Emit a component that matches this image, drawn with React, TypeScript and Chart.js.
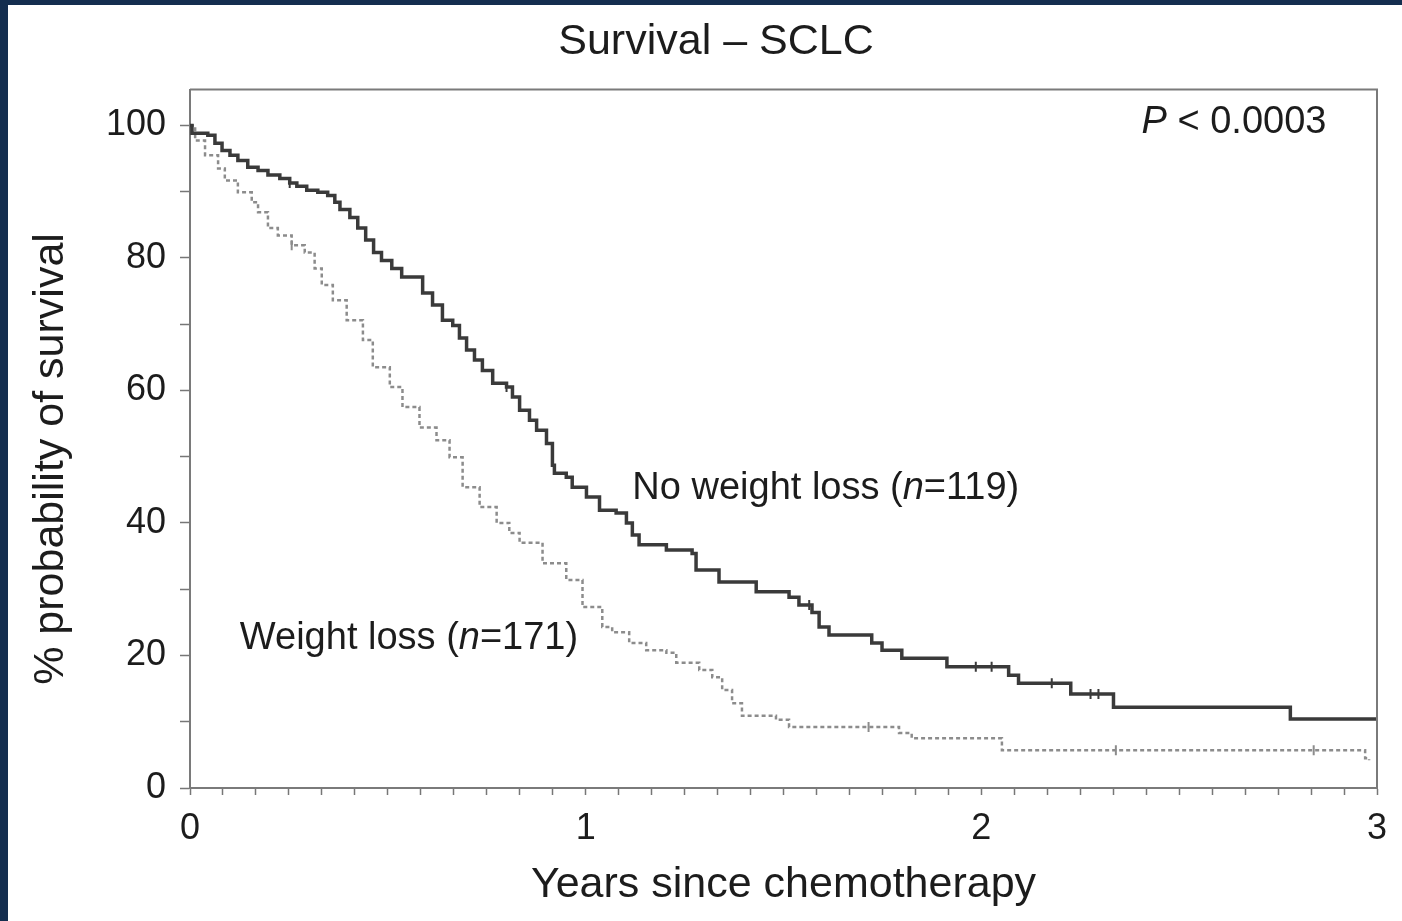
import React, { useEffect, useRef } from "react";
import { Chart, registerables } from "chart.js";

Chart.register(...registerables);

const FONT = '"Liberation Sans", Arial, Helvetica, sans-serif';
const TEXT = "#1c1c1c";

const chartTitle = "Survival – SCLC";
const xAxisTitle = "Years since chemotherapy";
const yAxisTitle = "% probability of survival";
const xTickLabels = ["0", "1", "2", "3"];
const yTickLabels = ["0", "20", "40", "60", "80", "100"];

// No weight loss (n=119) – Kaplan–Meier steps (years, % surviving)
const noLossX = [0, 0.005, 0.045, 0.063, 0.081, 0.101, 0.121, 0.146, 0.172, 0.197, 0.227, 0.252, 0.27, 0.295, 0.323, 0.348, 0.366, 0.379, 0.404, 0.424, 0.444, 0.464, 0.484, 0.51, 0.535, 0.588, 0.613, 0.638, 0.664, 0.681, 0.699, 0.719, 0.739, 0.765, 0.8, 0.815, 0.833, 0.858, 0.876, 0.901, 0.916, 0.921, 0.951, 0.966, 1.002, 1.035, 1.077, 1.103, 1.118, 1.135, 1.204, 1.269, 1.279, 1.337, 1.431, 1.514, 1.539, 1.572, 1.59, 1.615, 1.723, 1.749, 1.799, 1.913, 2.069, 2.094, 2.226, 2.334, 2.781, 3.0];
const noLossY = [100, 98.8, 98.5, 97.3, 96.2, 95.5, 94.7, 93.7, 93.2, 92.5, 92.0, 91.3, 90.8, 90.2, 89.9, 89.4, 88.4, 87.3, 86.1, 84.5, 82.7, 80.8, 79.6, 78.4, 77.1, 74.7, 72.9, 70.6, 69.8, 67.9, 66.1, 64.6, 63.0, 61.1, 60.5, 59.0, 57.0, 55.5, 54.0, 52.0, 48.7, 47.5, 46.9, 45.4, 43.9, 41.9, 41.5, 40.0, 38.2, 36.7, 35.9, 35.4, 32.9, 31.1, 29.6, 28.8, 27.6, 26.5, 24.3, 23.1, 21.9, 20.8, 19.6, 18.3, 17.0, 15.8, 14.2, 12.2, 10.4, 10.4];

// Weight loss (n=171)
const lossX = [0, 0.013, 0.038, 0.071, 0.088, 0.121, 0.156, 0.172, 0.197, 0.222, 0.257, 0.29, 0.315, 0.333, 0.361, 0.396, 0.437, 0.462, 0.505, 0.537, 0.58, 0.623, 0.656, 0.689, 0.732, 0.775, 0.807, 0.833, 0.891, 0.951, 0.992, 1.042, 1.067, 1.11, 1.153, 1.204, 1.229, 1.287, 1.32, 1.345, 1.37, 1.395, 1.481, 1.514, 1.792, 1.824, 2.052, 2.97, 2.98];
const lossY = [100, 97.7, 95.5, 93.5, 91.7, 89.9, 88.4, 86.9, 84.5, 83.4, 81.9, 80.8, 78.4, 75.9, 73.6, 70.6, 67.6, 63.5, 60.5, 57.5, 54.4, 52.5, 49.9, 45.4, 42.4, 40.0, 38.5, 37.0, 33.9, 31.4, 27.3, 24.3, 23.5, 21.9, 20.8, 20.4, 18.9, 17.8, 16.7, 14.8, 12.8, 10.9, 10.3, 9.2, 8.3, 7.5, 5.7, 4.5, 4.2];

// censoring marks
const noLossCensorX = [0.252, 0.8, 1.565, 1.986, 2.026, 2.178, 2.276, 2.296];
const noLossCensorY = [91.3, 60.5, 27.6, 18.3, 18.3, 15.8, 14.2, 14.2];
const lossCensorX = [0.257, 1.715, 2.34, 2.84];
const lossCensorY = [81.9, 9.2, 5.7, 5.7];

const toPts = (xs: number[], ys: number[]) => xs.map((x, i) => ({ x, y: ys[i] }));

type Run = { t: string; i?: boolean };
const annotations: { x: number; y: number; runs: Run[] }[] = [
  { x: 2.405, y: 100.5, runs: [{ t: "P", i: true }, { t: " < 0.0003" }] },
  { x: 1.118, y: 45.2, runs: [{ t: "No weight loss (" }, { t: "n", i: true }, { t: "=119)" }] },
  { x: 0.126, y: 22.6, runs: [{ t: "Weight loss (" }, { t: "n", i: true }, { t: "=171)" }] },
];

const overlayPlugin = {
  id: "overlay",
  afterDraw(chart: any) {
    const { ctx, chartArea, scales } = chart;
    ctx.save();
    // top and right frame lines
    ctx.strokeStyle = "#7a7a7a";
    ctx.lineWidth = 2;
    ctx.beginPath();
    ctx.moveTo(chartArea.left, chartArea.top);
    ctx.lineTo(chartArea.right, chartArea.top);
    ctx.lineTo(chartArea.right, chartArea.bottom);
    ctx.stroke();

    ctx.fillStyle = TEXT;
    ctx.textBaseline = "middle";
    ctx.textAlign = "left";
    for (const a of annotations) {
      let px = scales.x.getPixelForValue(a.x);
      const py = scales.y.getPixelForValue(a.y);
      for (const r of a.runs) {
        ctx.font = `${r.i ? "italic " : ""}38px ${FONT}`;
        ctx.fillText(r.t, px, py);
        px += ctx.measureText(r.t).width;
      }
    }

    // y-axis title
    ctx.font = `43px ${FONT}`;
    ctx.textAlign = "center";
    ctx.translate(43, 454);
    ctx.rotate(-Math.PI / 2);
    ctx.fillText(yAxisTitle, 0, 0);
    ctx.restore();
  },
};

export default function App() {
  const ref = useRef<HTMLCanvasElement | null>(null);

  useEffect(() => {
    if (!ref.current) return;
    const chart = new Chart(ref.current, {
      type: "line",
      data: {
        datasets: [
          {
            label: "No weight loss",
            data: toPts(noLossX, noLossY),
            borderColor: "#3a3a3a",
            borderWidth: 3.5,
            stepped: "before",
            pointRadius: 0,
            fill: false,
          },
          {
            label: "Weight loss",
            data: toPts(lossX, lossY),
            borderColor: "#8c8c8c",
            borderWidth: 2.5,
            borderDash: [4, 3],
            stepped: "before",
            pointRadius: 0,
            fill: false,
          },
          {
            label: "censored no loss",
            data: toPts(noLossCensorX, noLossCensorY),
            showLine: false,
            pointStyle: "line",
            rotation: 90,
            pointRadius: 5,
            pointBorderWidth: 2,
            pointBorderColor: "#3a3a3a",
            borderColor: "#3a3a3a",
          },
          {
            label: "censored loss",
            data: toPts(lossCensorX, lossCensorY),
            showLine: false,
            pointStyle: "line",
            rotation: 90,
            pointRadius: 5,
            pointBorderWidth: 2,
            pointBorderColor: "#8c8c8c",
            borderColor: "#8c8c8c",
          },
        ],
      },
      options: {
        responsive: false,
        animation: false,
        devicePixelRatio: 1,
        events: [],
        layout: { padding: { left: 47, right: 25, top: 0, bottom: 0 } },
        plugins: {
          legend: { display: false },
          tooltip: { enabled: false },
          title: {
            display: true,
            text: chartTitle,
            color: TEXT,
            font: { family: FONT, size: 43, weight: "normal", lineHeight: 1.2 },
            padding: { top: 11, bottom: 22 },
          },
        },
        scales: {
          x: {
            type: "linear",
            position: "bottom",
            min: 0,
            max: 3,
            afterBuildTicks: (scale: any) => {
              const t = [];
              for (let i = 0; i <= 36; i++) t.push({ value: i / 12 });
              scale.ticks = t;
            },
            afterFit: (scale: any) => {
              scale.height = 133;
            },
            ticks: {
              autoSkip: false,
              maxRotation: 0,
              padding: 12,
              color: TEXT,
              font: { family: FONT, size: 36, lineHeight: 1.2 },
              callback: (v: any) => {
                const n = Number(v);
                const r = Math.round(n);
                return Math.abs(n - r) < 1e-6 ? xTickLabels[r] : "";
              },
            },
            grid: {
              display: true,
              drawOnChartArea: false,
              drawTicks: true,
              tickLength: 7,
              tickColor: "#777",
              tickWidth: 1.5,
            },
            border: { display: true, color: "#7a7a7a", width: 2 },
            title: {
              display: true,
              text: xAxisTitle,
              color: TEXT,
              font: { family: FONT, size: 43, lineHeight: 1.2 },
              padding: { top: 0, bottom: 10 },
            },
          },
          y: {
            type: "linear",
            min: 0,
            max: 105.4,
            afterBuildTicks: (scale: any) => {
              const t = [];
              for (let i = 0; i <= 10; i++) t.push({ value: i * 10 });
              scale.ticks = t;
            },
            afterFit: (scale: any) => {
              scale.width = 135;
            },
            ticks: {
              autoSkip: false,
              padding: 14,
              color: TEXT,
              font: { family: FONT, size: 36, lineHeight: 1.2 },
              callback: (v: any) => {
                const n = Math.round(Number(v));
                return n % 20 === 0 ? yTickLabels[n / 20] : "";
              },
            },
            grid: {
              display: true,
              drawOnChartArea: false,
              drawTicks: true,
              tickLength: 10,
              tickColor: "#777",
              tickWidth: 1.5,
            },
            border: { display: true, color: "#7a7a7a", width: 2 },
          },
        },
      },
      plugins: [overlayPlugin],
    } as any);
    return () => chart.destroy();
  }, []);

  return (
    <div style={{ position: "fixed", left: 0, top: 0, width: 1402, height: 921, background: "#142e4f" }}>
      <div style={{ position: "absolute", left: 8, top: 5, width: 1394, height: 916, background: "#ffffff" }}>
        <canvas ref={ref} width={1394} height={916} style={{ display: "block", width: 1394, height: 916 }} />
      </div>
    </div>
  );
}
